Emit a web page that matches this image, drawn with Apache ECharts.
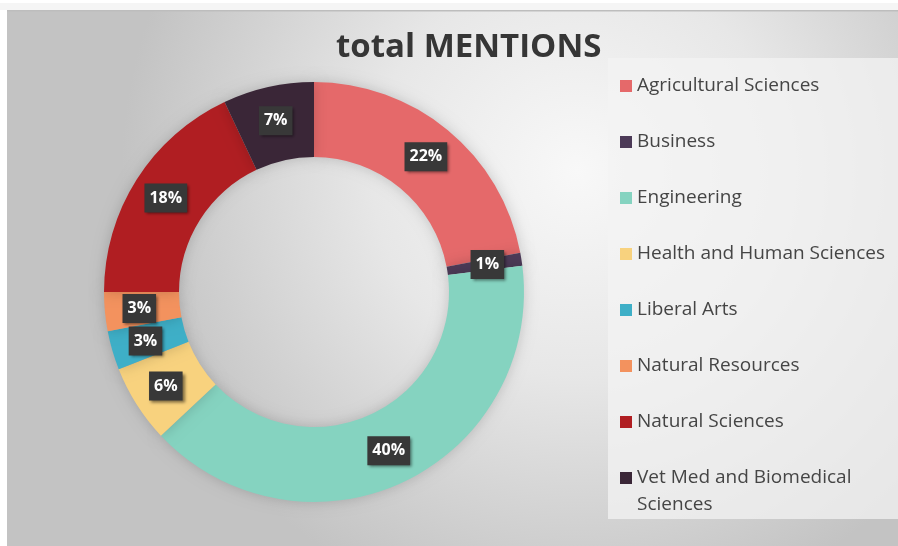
<!DOCTYPE html>
<html>
<head>
<meta charset="utf-8">
<script src="https://cdn.jsdelivr.net/npm/echarts@6/dist/echarts.min.js"></script>
<style>
html,body{margin:0;padding:0;background:#fff;}
#main{width:898px;height:546px;}
</style>
</head>
<body>
<div id="main"></div>
<script>
const titleText = 'total MENTIONS';
const categories = ['Agricultural Sciences','Business','Engineering','Health and Human Sciences','Liberal Arts','Natural Resources','Natural Sciences','Vet Med and Biomedical Sciences'];
const values = [22, 1, 40, 6, 3, 3, 18, 7];
const colors = ['#E5696A','#4C3A57','#85D3C0','#F8D27E','#3EAFC7','#F3925E','#B01E22','#3A2637'];

const chart = echarts.init(document.getElementById('main'));
const FONT = 'Open Sans';
const seriesData = categories.map((c, i) => ({ name: c, value: values[i], itemStyle: { color: colors[i] } }));

chart.setOption({
  animation: false,
  textStyle: { fontFamily: FONT },
  graphic: [
    { type: 'rect', z: -10, shape: { x: 0, y: 3, width: 898, height: 7 }, style: { fill: '#f5f5f5' } },
    { type: 'rect', z: -10, shape: { x: 7, y: 10, width: 891, height: 536 },
      style: { fill: new echarts.graphic.RadialGradient(0.64, 0.3, 0.85, [
        { offset: 0, color: '#f8f8f8' },
        { offset: 0.45, color: '#e7e7e7' },
        { offset: 1, color: '#c3c3c3' }
      ]) } },
    { type: 'rect', z: -9, shape: { x: 7, y: 10, width: 891, height: 1.5 }, style: { fill: '#bdbdbd' } },
    { type: 'rect', z: -8, shape: { x: 608, y: 58, width: 292, height: 461 }, style: { fill: 'rgba(243,243,243,0.75)' } }
  ],
  title: {
    text: titleText,
    left: 336,
    top: 31,
    padding: 0,
    textStyle: { fontFamily: FONT, fontSize: 33, fontWeight: 'bold', color: '#363636' }
  },
  legend: [
    {
      orient: 'vertical',
      left: 620,
      top: 76,
      padding: 0,
      itemWidth: 12,
      itemHeight: 12,
      itemGap: 36,
      icon: 'rect',
      data: categories.slice(0, 7),
      textStyle: { fontFamily: FONT, fontSize: 19, lineHeight: 20, color: '#454545' }
    },
    {
      orient: 'vertical',
      left: 620,
      top: 437.5,
      padding: 0,
      itemWidth: 12,
      itemHeight: 12,
      icon: 'rect',
      data: categories.slice(7),
      formatter: n => ' \nVet Med and Biomedical\nSciences',
      textStyle: { fontFamily: FONT, fontSize: 19, lineHeight: 27, color: '#454545' }
    }
  ],
  series: [{
    type: 'pie',
    center: [314, 292],
    radius: [135, 210],
    startAngle: 90,
    clockwise: true,
    avoidLabelOverlap: false,
    itemStyle: { shadowColor: 'rgba(0,0,0,0.18)', shadowBlur: 14 },
    label: {
      show: true,
      position: 'inside',
      formatter: p => Math.round(p.percent) + '%',
      fontFamily: FONT,
      fontSize: 16,
      fontWeight: 'bold',
      color: '#ffffff',
      backgroundColor: '#383838',
      padding: [7, 5, 6, 5],
      shadowColor: 'rgba(0,0,0,0.5)',
      shadowBlur: 3,
      shadowOffsetX: 2,
      shadowOffsetY: 2
    },
    labelLine: { show: false },
    emphasis: { disabled: true },
    data: seriesData
  }]
});
</script>
</body>
</html>
